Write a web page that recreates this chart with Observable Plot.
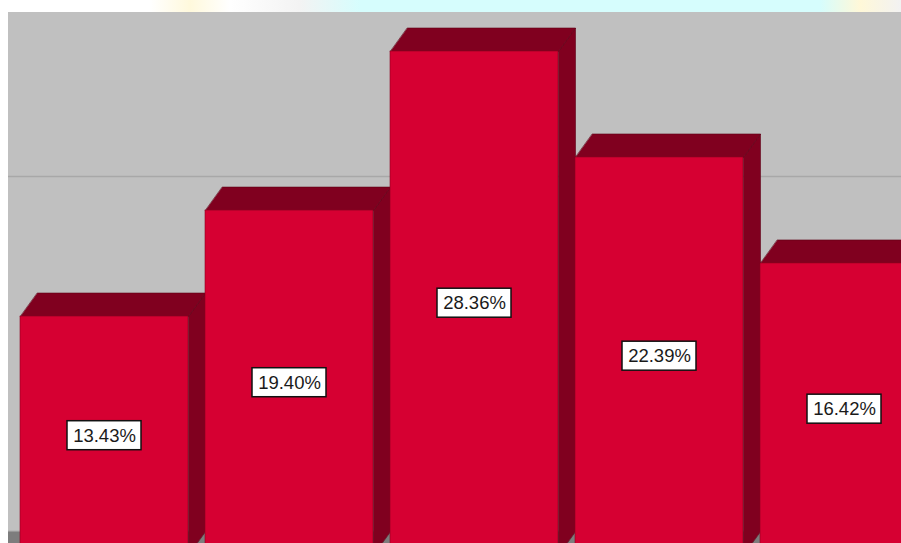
<!DOCTYPE html>
<html>
<head>
<meta charset="utf-8">
<script src="https://cdn.jsdelivr.net/npm/d3@7"></script>
<script src="https://cdn.jsdelivr.net/npm/@observablehq/plot@0.6"></script>
<style>
  html, body { margin: 0; padding: 0; background: #fff; }
  #page { width: 901px; height: 543px; overflow: hidden; position: relative; }
  #header { width: 901px; height: 12px;
    background: linear-gradient(90deg, #ffffff 0px, #ffffff 150px, #fff9dc 190px, #ffffff 230px, #f3f3f3 300px, #d6fdfd 360px, #d6fdfd 820px, #fff8d8 860px, #f2f2f2 901px); }
  #row { display: flex; height: 531px; }
  #left { width: 8px; height: 531px; background: #fff; flex: none; }
  #chart { width: 893px; height: 531px; overflow: hidden; flex: none; }
  #chart svg { overflow: hidden; display: block; }
</style>
</head>
<body>
<div id="page">
  <div id="header"></div>
  <div id="row"><div id="left"></div><div id="chart"></div></div>
</div>
<script>
// ---- data ----
const categories = ["1", "2", "3", "4", "5"];
const values = [13.43, 19.40, 28.36, 22.39, 16.42];
const labels = ["13.43%", "19.40%", "28.36%", "22.39%", "16.42%"];
const gridValues = [20];

// ---- geometry (pixels per unit of the linear scales) ----
const PX = 185, PY = 17.75;
const HALF = 84 / PX;          // half bar width in x units
const DX = 17 / PX;            // 3D depth in x units
const DY = 23.5 / PY;          // 3D depth in y units
const BOXW = 37 / PX, BOXH = 14.5 / PY;

const bars = categories.map((c, i) => ({c, i, v: values[i], label: labels[i]}));

const tops = bars.flatMap(d => [
  {c: d.c, x: d.i - HALF, y: d.v},
  {c: d.c, x: d.i + HALF, y: d.v},
  {c: d.c, x: d.i + HALF + DX, y: d.v + DY},
  {c: d.c, x: d.i - HALF + DX, y: d.v + DY}
]);
const sides = bars.flatMap(d => [
  {c: d.c, x: d.i + HALF, y: 0},
  {c: d.c, x: d.i + HALF, y: d.v},
  {c: d.c, x: d.i + HALF + DX, y: d.v + DY},
  {c: d.c, x: d.i + HALF + DX, y: DY}
]);

const front = "#d60032", dark = "#80001f";

const plot = Plot.plot({
  width: 893,
  height: 531,
  margin: 0,
  style: {background: "#c0c0c0", overflow: "hidden"},
  x: {type: "linear", domain: [0, 4], range: [96, 96 + 4 * PX], axis: null},
  y: {type: "linear", domain: [0, 30], range: [542.4, 542.4 - 30 * PY], axis: null},
  marks: [
    // floor
    Plot.rect([{}], {x1: -2, x2: 6, y1: -3, y2: DY, fill: "#7d7d7d"}),
    Plot.ruleY([DY], {x1: -2, x2: 6, stroke: "#9c9c9c", strokeWidth: 1}),
    // back-wall gridline
    Plot.ruleY(gridValues, {y: d => d + DY, x1: -2, x2: 6, stroke: "#a8a8a8", strokeWidth: 1.5}),
    // side faces
    Plot.line(sides, {x: "x", y: "y", z: "c", curve: "linear-closed", fill: dark, stroke: "#5e0016", strokeWidth: 0.6}),
    // top faces
    Plot.line(tops, {x: "x", y: "y", z: "c", curve: "linear-closed", fill: dark, stroke: "#5e0016", strokeWidth: 0.6}),
    // front faces
    Plot.rect(bars, {x1: d => d.i - HALF, x2: d => d.i + HALF, y1: -3, y2: "v", fill: front, stroke: "#8a0020", strokeWidth: 0.6}),
    // label boxes
    Plot.rect(bars, {x1: d => d.i - BOXW, x2: d => d.i + BOXW, y1: d => d.v / 2 - BOXH, y2: d => d.v / 2 + BOXH, fill: "white", stroke: "#111", strokeWidth: 1.5}),
    Plot.text(bars, {x: "i", y: d => d.v / 2, text: "label", fontSize: 18.5, fontFamily: "Liberation Sans, Arial, sans-serif", fill: "#1a1a1a"})
  ]
});
document.getElementById("chart").appendChild(plot);
</script>
</body>
</html>
